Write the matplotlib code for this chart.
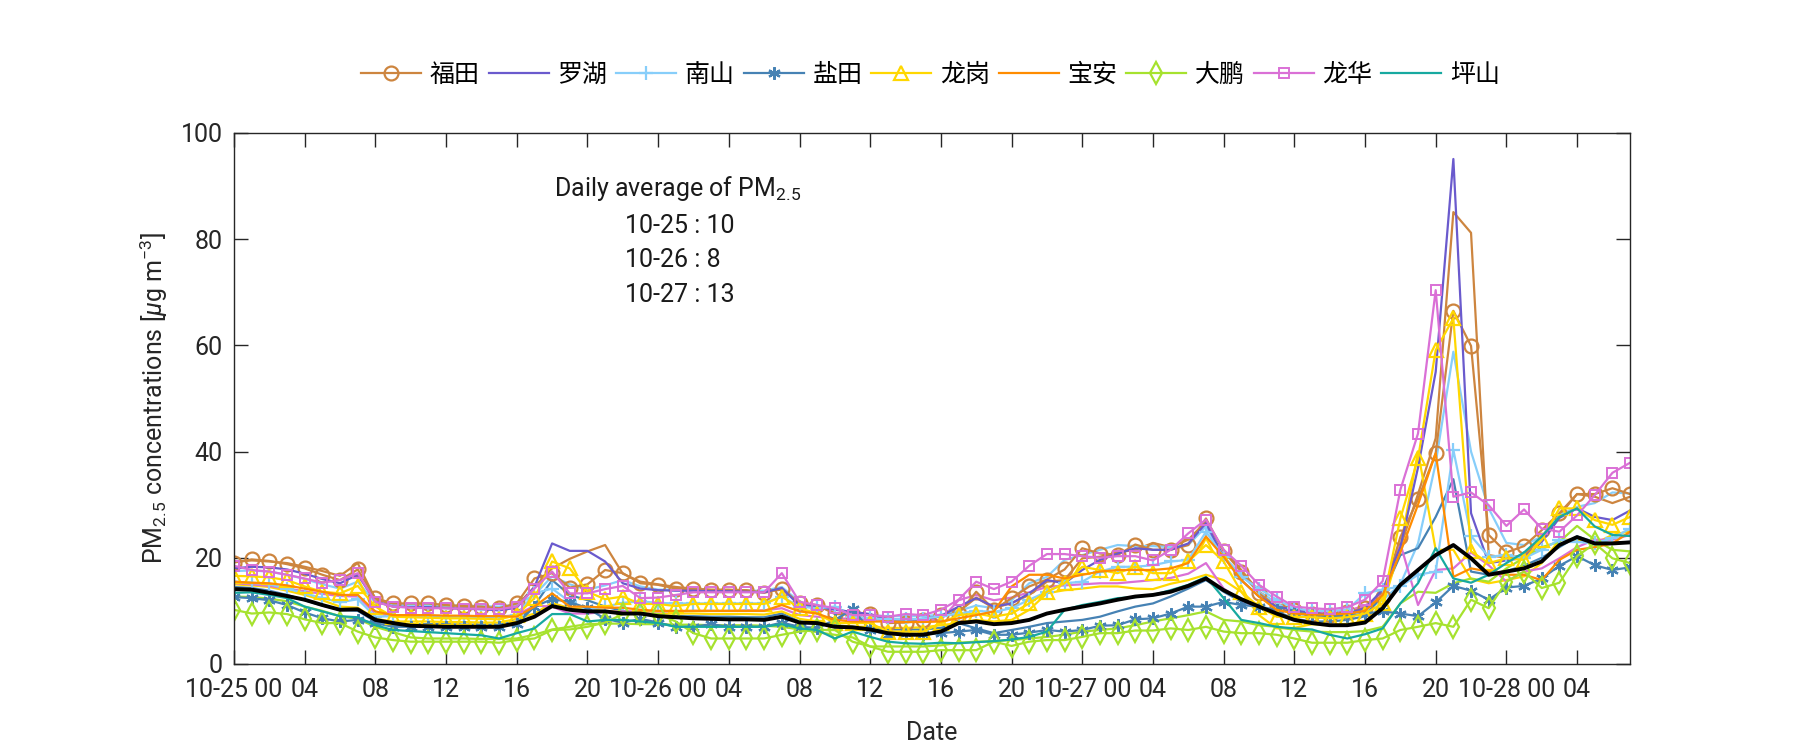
import matplotlib
matplotlib.use('Agg')
import matplotlib.pyplot as plt
import numpy as np

plt.rcParams['font.family'] = ['Roboto', 'Noto Sans CJK SC', 'DejaVu Sans']
plt.rcParams['mathtext.fontset'] = 'custom'
plt.rcParams['mathtext.rm'] = 'Roboto'
plt.rcParams['mathtext.it'] = 'Roboto:italic'
plt.rcParams['mathtext.default'] = 'regular'

# hourly values, 10-25 00 .. 10-28 07 (80 points)
hours = np.arange(80)

futian = [19.1, 19.7, 19.4, 18.8, 18.0, 16.8, 15.8, 17.8, 12.4, 11.4, 11.4, 11.4, 11.1, 10.9, 10.8, 10.5, 11.4, 16.1, 17.1, 14.4, 15.0,
          17.7, 17.1, 15.2, 14.9, 14.2, 14.1, 13.9, 13.9, 13.9, 13.4, 14.2, 11.4, 11.1, 9.4, 9.3, 9.4, 7.7, 7.8, 8.2, 9.2,
          9.5, 13.6, 10.2, 12.4, 14.6, 15.9, 17.8, 21.8, 20.8, 20.5, 22.5, 21.5, 21.5, 22.4, 27.4, 21.2, 17.4, 13.3, 10.8, 10.2, 9.5,
          9.2, 9.7, 10.5, 12.7, 23.9, 31.0, 39.7, 66.5, 59.9, 24.3, 21.0, 22.2, 25.2, 28.4, 32.0, 32.0, 33.1, 32.0]
futian_b = [19.2, 19.5, 19.3, 19.0, 18.3, 17.5, 16.6, 19.0, 12.2, 11.2, 11.0, 11.0, 10.9, 10.8, 10.7, 10.4, 11.0, 14.5, 18.0, 19.8, 21.2,
            22.4, 17.0, 15.5, 15.0, 14.5, 14.2, 14.0, 14.0, 13.8, 13.6, 14.0, 11.6, 11.0, 9.6, 9.4, 9.3, 8.0, 8.0, 8.3, 9.0,
            9.8, 12.5, 10.5, 11.5, 13.0, 15.5, 15.8, 19.9, 20.2, 21.0, 21.5, 22.8, 22.0, 23.4, 26.8, 21.5, 17.7, 13.6, 11.4, 10.2, 9.8,
            9.4, 9.8, 10.8, 13.5, 22.0, 32.0, 42.5, 85.1, 81.2, 20.5, 20.0, 20.5, 24.0, 28.0, 32.0, 31.5, 30.3, 31.5]
luohu = [18.0, 18.3, 18.2, 17.8, 17.0, 16.0, 15.2, 16.8, 11.8, 10.8, 10.7, 10.7, 10.5, 10.4, 10.3, 10.1, 10.6, 14.5, 22.7, 21.3, 21.3,
         19.3, 15.2, 14.2, 13.9, 13.8, 13.8, 13.7, 13.7, 13.6, 13.5, 14.3, 11.0, 10.8, 10.2, 9.8, 9.4, 8.4, 8.3, 8.5, 9.0,
         10.8, 12.4, 10.8, 11.4, 13.3, 15.8, 15.2, 17.7, 19.6, 20.8, 21.8, 21.5, 21.5, 22.7, 26.5, 20.2, 15.8, 12.7, 10.8, 10.2, 9.6,
         9.3, 9.5, 10.5, 14.0, 22.0, 37.0, 55.0, 95.1, 28.4, 19.0, 19.5, 20.0, 23.0, 27.5, 29.3, 27.7, 27.1, 28.9]
nanshan = [15.5, 15.3, 15.0, 14.2, 13.3, 12.4, 11.6, 12.2, 8.9, 9.0, 9.0, 9.0, 8.9, 8.9, 8.8, 8.8, 9.2, 13.3, 14.2, 11.7, 10.2,
           10.8, 11.5, 11.8, 11.5, 11.4, 11.4, 11.4, 11.4, 11.4, 11.4, 12.7, 10.8, 10.5, 10.8, 8.9, 8.6, 8.4, 8.4, 8.5, 9.0,
           9.5, 10.0, 9.8, 10.5, 12.1, 13.6, 15.2, 15.5, 17.4, 18.3, 18.3, 18.6, 19.3, 19.6, 24.9, 20.2, 16.4, 14.2, 12.1, 10.5, 10.0,
           10.0, 10.2, 13.3, 14.0, 14.6, 16.8, 17.4, 40.3, 24.1, 20.2, 20.5, 19.9, 21.5, 23.4, 23.0, 22.7, 23.7, 25.5]
nanshan_b = [17.5, 17.6, 17.4, 16.8, 16.0, 15.0, 14.2, 15.5, 11.5, 11.1, 11.1, 11.1, 11.0, 11.0, 10.9, 10.8, 11.2, 13.0, 16.5, 15.0, 14.0,
             14.8, 15.8, 14.6, 14.0, 14.0, 14.0, 13.9, 13.9, 13.8, 13.8, 14.5, 11.7, 10.8, 10.6, 9.5, 9.2, 9.0, 9.0, 9.0, 9.3,
             10.0, 11.0, 10.5, 12.0, 15.2, 16.4, 19.6, 20.5, 21.5, 22.4, 22.2, 22.2, 22.0, 22.4, 25.9, 20.2, 16.8, 13.5, 11.5, 9.5, 9.0,
             9.0, 9.3, 10.0, 12.0, 15.0, 22.7, 37.8, 58.8, 40.0, 29.3, 22.8, 22.4, 24.0, 28.0, 29.6, 30.3, 32.3, 32.1]
yantian = [12.6, 12.4, 12.0, 11.1, 9.7, 8.6, 8.0, 8.3, 7.7, 7.0, 7.0, 7.0, 7.0, 7.0, 7.0, 7.0, 7.5, 10.8, 12.2, 11.7, 10.5,
           8.5, 7.8, 8.5, 7.8, 7.0, 7.0, 7.5, 7.0, 7.0, 7.0, 7.8, 7.0, 6.8, 8.3, 10.3, 6.4, 5.5, 5.8, 5.6, 5.8,
           6.1, 6.4, 5.5, 5.5, 5.9, 6.4, 6.1, 6.4, 7.2, 7.3, 8.4, 8.6, 9.5, 10.8, 10.8, 11.7, 11.1, 10.8, 10.2, 9.7, 9.2,
           9.0, 9.0, 9.5, 9.9, 9.5, 9.0, 11.6, 14.7, 13.8, 12.1, 14.4, 14.7, 16.1, 18.5, 20.3, 18.6, 17.7, 18.2]
yantian_b = [14.5, 14.3, 13.8, 13.0, 12.0, 11.0, 10.2, 10.0, 8.0, 7.6, 7.5, 7.5, 7.5, 7.4, 7.4, 7.4, 8.0, 11.0, 15.8, 13.0, 12.0,
             10.8, 10.0, 9.5, 9.2, 9.0, 9.0, 8.9, 8.9, 8.8, 8.8, 9.5, 8.0, 7.5, 7.3, 7.0, 6.8, 6.5, 6.5, 6.5, 6.8,
             7.7, 6.7, 5.8, 6.4, 7.0, 7.7, 8.0, 8.3, 8.9, 9.9, 10.8, 11.4, 12.7, 14.2, 15.8, 13.6, 11.7, 10.8, 9.9, 8.5, 8.0,
             8.0, 8.3, 9.0, 13.0, 20.5, 21.8, 27.7, 34.8, 17.4, 16.8, 17.5, 18.5, 20.0, 22.0, 24.0, 23.0, 22.8, 23.0]
longgang = [16.6, 16.5, 16.3, 15.8, 14.6, 13.6, 13.3, 14.7, 10.8, 8.9, 8.8, 8.7, 8.6, 8.6, 8.5, 8.4, 9.2, 12.4, 19.3, 18.0, 13.6,
            12.2, 12.7, 11.3, 11.3, 10.9, 11.3, 11.3, 11.3, 11.3, 11.3, 12.7, 10.5, 9.5, 7.7, 7.7, 7.7, 6.1, 6.1, 6.1, 7.7,
            9.2, 9.5, 8.9, 9.5, 11.4, 13.6, 15.2, 18.3, 17.7, 17.1, 18.3, 17.1, 17.1, 19.3, 22.4, 19.3, 13.6, 10.8, 8.9, 8.9, 8.8,
            8.6, 8.8, 9.5, 11.4, 27.4, 38.7, 59.1, 65.1, 21.2, 19.0, 19.9, 19.6, 23.4, 29.3, 29.3, 27.1, 26.2, 27.7]
longgang_b = [15.0, 14.8, 14.5, 13.8, 13.0, 12.0, 10.8, 10.6, 8.5, 8.0, 8.0, 8.0, 7.9, 7.9, 7.8, 7.8, 8.5, 9.5, 11.5, 10.5, 10.3,
              10.0, 9.8, 9.6, 9.5, 9.5, 9.5, 9.4, 9.4, 9.4, 9.3, 9.9, 8.5, 8.0, 7.2, 7.0, 7.0, 6.8, 6.8, 6.9, 7.3,
              7.7, 8.3, 8.0, 8.3, 10.2, 13.3, 13.9, 14.2, 14.6, 14.6, 14.2, 14.1, 15.1, 15.8, 16.8, 15.8, 13.6, 9.2, 6.7, 6.8, 7.5,
              7.3, 7.5, 8.0, 11.0, 22.0, 40.0, 21.5, 21.5, 16.0, 15.2, 15.8, 16.5, 19.0, 23.4, 23.4, 22.7, 24.3, 25.0]
baoan = [15.5, 15.3, 15.2, 14.8, 14.2, 13.6, 13.0, 13.0, 9.9, 9.2, 9.2, 9.2, 9.1, 9.1, 9.0, 9.0, 8.9, 10.8, 13.3, 10.8, 10.8,
         10.6, 10.6, 10.2, 10.0, 10.0, 10.0, 10.0, 10.0, 10.0, 10.0, 11.1, 9.9, 9.5, 8.3, 8.0, 8.0, 8.0, 7.9, 7.9, 8.0,
         8.6, 9.2, 9.9, 14.6, 16.8, 16.8, 16.1, 16.8, 17.4, 17.7, 17.7, 17.7, 18.0, 19.0, 24.0, 20.2, 15.8, 12.7, 10.2, 9.5, 9.3,
         9.3, 9.5, 10.0, 13.0, 21.0, 30.0, 39.7, 16.4, 18.0, 17.4, 16.8, 16.8, 15.8, 19.6, 21.5, 22.0, 22.7, 24.9]
dapeng = [10.2, 9.5, 9.7, 9.4, 8.4, 7.7, 7.7, 6.1, 5.0, 4.5, 4.2, 4.2, 4.2, 4.2, 4.2, 4.0, 4.5, 4.8, 6.4, 6.5, 7.0,
          7.8, 9.4, 9.4, 9.4, 8.0, 5.8, 4.8, 4.8, 4.8, 4.8, 5.5, 6.1, 6.4, 6.4, 4.2, 3.3, 2.3, 2.3, 2.3, 2.6,
          2.6, 2.6, 4.2, 3.4, 4.2, 4.5, 4.5, 5.1, 5.8, 5.8, 6.3, 6.3, 6.7, 6.4, 7.0, 6.1, 5.8, 5.8, 5.5, 4.8, 4.0,
          4.0, 4.0, 4.5, 4.8, 6.4, 7.0, 7.7, 7.0, 12.1, 10.5, 15.5, 17.4, 14.3, 15.3, 20.3, 22.7, 19.9, 19.0]
dapeng_b = [12.7, 12.6, 12.3, 11.8, 10.8, 10.0, 9.0, 8.5, 7.0, 6.0, 5.0, 4.8, 4.8, 4.8, 4.7, 4.7, 4.8, 5.5, 6.5, 7.0, 7.5,
            7.6, 7.6, 7.5, 7.5, 7.4, 7.4, 7.3, 7.3, 7.3, 7.2, 7.0, 6.5, 6.0, 5.5, 5.0, 3.3, 3.3, 3.3, 3.3, 3.5,
            4.0, 4.2, 4.3, 4.5, 4.8, 5.1, 5.5, 6.1, 6.4, 6.7, 7.3, 8.0, 8.6, 9.2, 9.9, 8.3, 8.0, 7.3, 7.0, 6.4, 6.1,
            6.0, 6.0, 6.2, 7.0, 11.4, 13.6, 13.4, 15.2, 16.1, 15.5, 18.0, 20.0, 22.0, 23.0, 26.0, 23.4, 21.5, 21.2]
longhua = [18.5, 17.7, 17.4, 16.8, 16.1, 15.3, 15.8, 17.1, 11.7, 10.8, 10.6, 10.5, 10.5, 10.4, 10.4, 10.3, 10.8, 14.2, 17.4, 13.3, 13.3,
           14.1, 14.7, 12.4, 12.5, 13.0, 13.5, 13.5, 13.5, 13.5, 13.5, 17.1, 11.7, 11.1, 10.5, 9.2, 9.2, 8.9, 9.4, 9.2, 10.2,
           12.1, 15.5, 14.1, 15.5, 18.5, 20.7, 20.7, 20.3, 20.0, 20.3, 20.3, 19.5, 21.5, 24.6, 27.2, 21.5, 18.5, 14.9, 12.7, 10.8, 10.5,
           10.3, 10.7, 12.1, 15.6, 32.8, 43.4, 70.4, 31.5, 32.3, 29.9, 26.0, 29.1, 25.5, 24.9, 28.0, 31.8, 36.0, 37.9]
longhua_b = [15.2, 15.0, 14.7, 14.2, 13.7, 13.2, 12.8, 12.7, 9.5, 9.1, 9.0, 9.0, 9.0, 9.0, 8.9, 8.9, 9.2, 11.0, 10.8, 9.5, 9.5,
             9.8, 9.9, 9.9, 9.9, 9.9, 10.0, 10.0, 10.0, 10.1, 10.1, 10.5, 9.2, 8.9, 8.6, 8.5, 8.4, 8.3, 8.3, 8.3, 8.3,
             12.0, 13.0, 12.0, 12.5, 13.5, 14.5, 14.8, 15.0, 15.2, 15.2, 15.5, 15.8, 16.2, 17.0, 19.0, 14.2, 12.0, 10.5, 10.0, 10.0, 9.8,
             9.7, 10.0, 11.0, 13.0, 22.7, 11.1, 17.7, 18.0, 21.0, 18.6, 15.5, 17.4, 18.0, 19.9, 22.0, 23.4, 23.4, 24.3]
pingshan = [13.4, 13.5, 13.0, 12.4, 10.8, 9.9, 9.0, 8.8, 7.3, 6.4, 6.2, 6.0, 5.8, 5.6, 5.4, 4.8, 5.8, 6.7, 9.4, 9.4, 8.0,
            8.3, 8.3, 8.0, 7.7, 7.0, 7.0, 7.0, 7.0, 7.0, 7.0, 7.5, 6.7, 6.4, 4.8, 6.1, 5.1, 4.2, 3.9, 3.8, 4.0,
            3.9, 4.1, 4.3, 4.6, 5.1, 6.1, 10.2, 11.1, 11.7, 12.4, 12.6, 13.0, 13.9, 14.9, 16.4, 12.4, 8.3, 7.7, 7.0, 6.7, 6.5,
            5.5, 4.8, 5.6, 6.7, 11.4, 15.2, 21.8, 16.1, 15.3, 16.8, 19.0, 21.0, 24.0, 27.7, 29.3, 25.9, 24.3, 24.1]
city_mean = [14.1, 14.0, 13.4, 12.8, 12.1, 11.1, 10.2, 10.3, 8.3, 7.7, 7.2, 7.1, 7.0, 7.0, 7.0, 7.0, 7.7, 8.9, 10.9, 10.2, 9.9,
             9.9, 9.5, 9.5, 9.0, 8.8, 8.6, 8.5, 8.4, 8.4, 8.3, 8.9, 7.8, 7.7, 7.0, 6.9, 6.5, 5.8, 5.5, 5.5, 6.1,
             7.7, 8.0, 7.5, 7.7, 8.3, 9.5, 10.2, 10.8, 11.4, 12.1, 12.7, 13.0, 13.6, 14.7, 16.1, 13.9, 12.2, 10.8, 9.5, 8.3, 7.7,
             7.3, 7.3, 7.8, 10.5, 14.9, 17.7, 20.5, 22.4, 19.9, 16.8, 17.4, 18.0, 19.3, 22.4, 23.9, 22.7, 22.7, 22.9]

tick_labels = ['10-25 00', '04', '08', '12', '16', '20',
               '10-26 00', '04', '08', '12', '16', '20',
               '10-27 00', '04', '08', '12', '16', '20',
               '10-28 00', '04']
daily_avg = ['10-25 : 10', '10-26 : 8', '10-27 : 13']

c_futian = '#CD853F'
c_luohu = '#6A5ACD'
c_nanshan = '#87CEFA'
c_yantian = '#4682B4'
c_longgang = '#FFD700'
c_baoan = '#FF8C00'
c_dapeng = '#A6E22E'
c_longhua = '#DA70D6'
c_pingshan = '#17A9A0'

fs = 18
fig = plt.figure(figsize=(18, 7.5), dpi=100)
ax = fig.add_axes([0.130, 0.1147, 0.7756, 0.708])

lw = 1.6
# second set of station curves (no markers, not in legend)
ax.plot(hours, futian_b, color=c_futian, lw=lw)
ax.plot(hours, nanshan_b, color=c_nanshan, lw=lw)
ax.plot(hours, yantian_b, color=c_yantian, lw=lw)
ax.plot(hours, longgang_b, color=c_longgang, lw=lw)
ax.plot(hours, dapeng_b, color=c_dapeng, lw=lw)
ax.plot(hours, longhua_b, color=c_longhua, lw=lw)

ax.plot(hours, futian, color=c_futian, lw=lw, marker='o', ms=10, mfc='none', mew=1.6, label='福田')
ax.plot(hours, luohu, color=c_luohu, lw=lw, label='罗湖')
ax.plot(hours, nanshan, color=c_nanshan, lw=lw, marker='+', ms=10, mew=1.6, label='南山')
ax.plot(hours, yantian, color=c_yantian, lw=lw, marker=(6, 2, 0), ms=9, mew=1.6, label='盐田')
ax.plot(hours, longgang, color=c_longgang, lw=lw, marker='^', ms=10, mfc='none', mew=1.6, label='龙岗')
ax.plot(hours, baoan, color=c_baoan, lw=lw, label='宝安')
ax.plot(hours, dapeng, color=c_dapeng, lw=lw, marker='d', ms=11, mfc='none', mew=1.6, label='大鹏')
ax.plot(hours, longhua, color=c_longhua, lw=lw, marker='s', ms=7, mfc='none', mew=1.4, label='龙华')
ax.plot(hours, pingshan, color=c_pingshan, lw=lw, label='坪山')
ax.plot(hours, city_mean, color='black', lw=2.8)

ax.set_xlim(0, 79)
ax.set_ylim(0, 100)
ax.set_xticks(np.arange(0, 80, 4))
ax.set_xticklabels(tick_labels)
ax.set_yticks(np.arange(0, 101, 20))
ax.tick_params(direction='in', length=10, width=1.0, top=True, right=True,
               labelsize=fs, colors='#262626')
ax.tick_params(axis='x', pad=10)
ax.tick_params(axis='y', pad=8)
for sp in ax.spines.values():
    sp.set_color('#262626')
    sp.set_linewidth(1.0)

ax.set_xlabel('Date', fontsize=fs, color='#262626', labelpad=14)
ax.set_ylabel(r'PM$_{2.5}$ concentrations [$\it{\mu}$g m$^{-3}$]', fontsize=fs, color='#262626', labelpad=8)

ax.text(18.1, 89.6, r'Daily average of PM$_{2.5}$', fontsize=fs, va='center', ha='left', color='#1a1a1a')
for i, s in enumerate(daily_avg):
    ax.text(22.1, 82.5 - 6.5 * i, s, fontsize=fs, va='center', ha='left', color='#1a1a1a')

fig.legend(loc='center', bbox_to_anchor=(0.517, 0.9), ncol=9, frameon=False,
           fontsize=fs, handlelength=2.4, columnspacing=0.35, handletextpad=0.35)

fig.savefig('out.png', dpi=100)
